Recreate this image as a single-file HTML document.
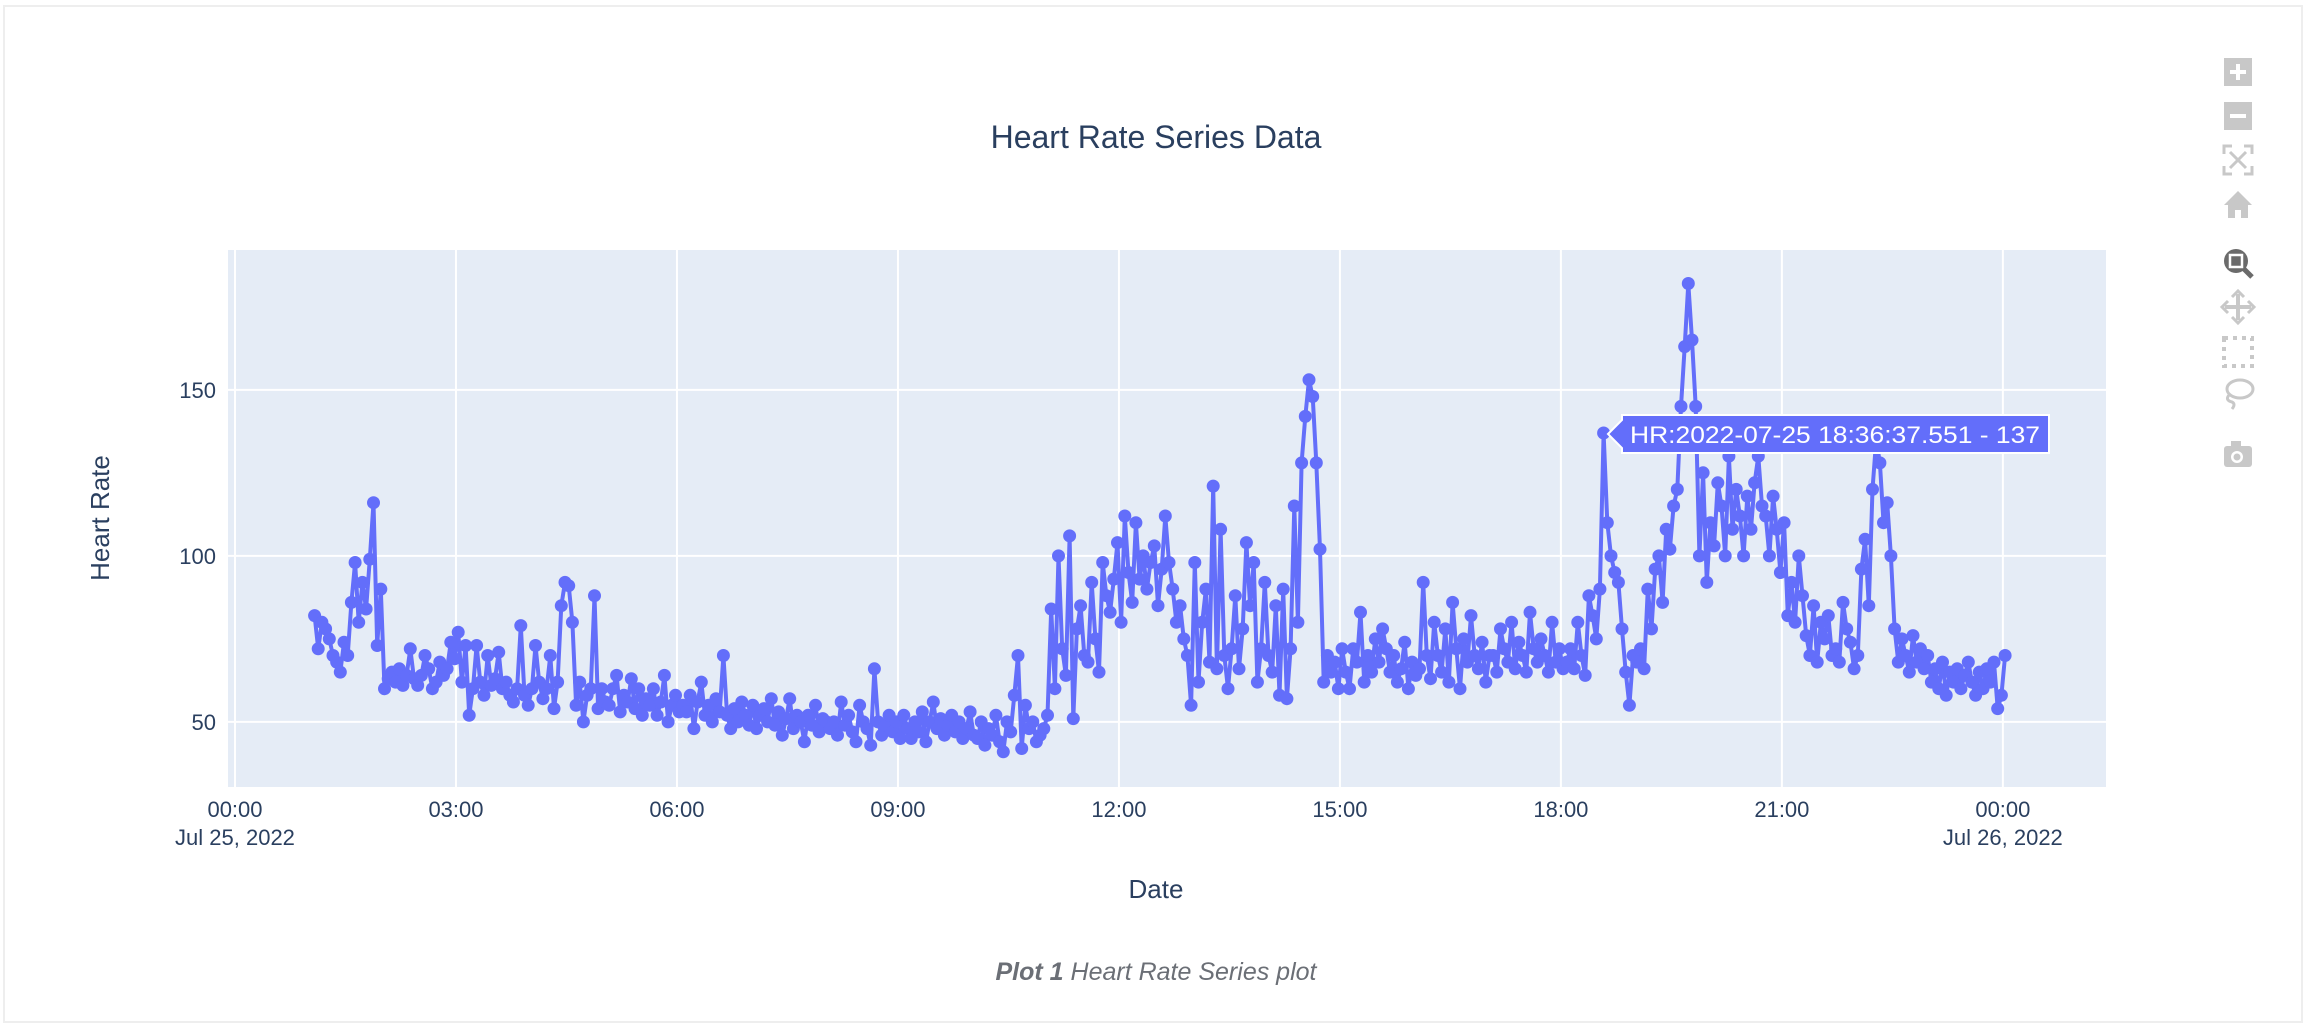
<!DOCTYPE html>
<html><head><meta charset="utf-8"><style>
html,body{margin:0;padding:0;background:#fff;}
body{width:2306px;height:1026px;overflow:hidden;font-family:"Liberation Sans",sans-serif;}
</style></head><body>
<svg id="chart" width="2306" height="1026" viewBox="0 0 2306 1026" xmlns="http://www.w3.org/2000/svg">
<rect x="4" y="6" width="2298" height="1016" fill="#fff" stroke="#eeeeee" stroke-width="2"/>
<text x="1156" y="148" text-anchor="middle" font-size="32" fill="#2a3f5f">Heart Rate Series Data</text>
<rect x="228" y="250" width="1878" height="537" fill="#e5ecf6"/>
<g id="grid"></g>
<g id="xticks"></g>
<g id="yticks"></g>
<g id="series"></g>
<text x="0" y="0" transform="translate(109,518) rotate(-90)" text-anchor="middle" font-size="26" fill="#2a3f5f">Heart Rate</text>
<text x="1156" y="898" text-anchor="middle" font-size="26" fill="#2a3f5f">Date</text>
<text x="1156" y="980" text-anchor="middle" font-size="25" fill="#6b6f76" font-style="italic"><tspan font-weight="bold">Plot 1</tspan> Heart Rate Series plot</text>
<g id="tooltip">
<path d="M1608,434 L1622,420 L1622,415 L2049,415 L2049,453 L1622,453 L1622,448 Z" fill="#636efa" stroke="#fff" stroke-width="2"/>
<text x="1630" y="443" font-size="24" fill="#fff" textLength="410" lengthAdjust="spacingAndGlyphs">HR:2022-07-25 18:36:37.551 - 137</text>
</g>
<g fill="#c8c8c8">
<g><rect x="2224" y="58" width="28" height="28"/><rect x="2230" y="70" width="16" height="4" fill="#fff"/><rect x="2236" y="64" width="4" height="16" fill="#fff"/></g>
<g><rect x="2224" y="102" width="28" height="28"/><rect x="2230" y="114" width="16" height="4" fill="#fff"/></g>
<g stroke="#c8c8c8" stroke-width="3" fill="none"><path d="M2224,154 v-8 h8 M2244,146 h8 v8 M2252,166 v8 h-8 M2232,174 h-8 v-8 M2230,152 l16,16 M2246,152 l-16,16"/></g>
<g><path d="M2238,191 L2224,205 L2228,205 L2228,218 L2235,218 L2235,210 L2241,210 L2241,218 L2248,218 L2248,205 L2252,205 Z"/></g>
<g><circle cx="2236" cy="261" r="12" fill="#6b6b6b"/><rect x="2230" y="255" width="12" height="12" fill="#6b6b6b" stroke="#fff" stroke-width="2.5"/><path d="M2244,269 L2252,277" stroke="#6b6b6b" stroke-width="5"/></g>
<g stroke="#c8c8c8" stroke-width="4" fill="none"><path d="M2238,294 v26 M2225,307 h26"/><path d="M2232,297 l6,-6 l6,6 M2232,317 l6,6 l6,-6 M2228,301 l-6,6 l6,6 M2248,301 l6,6 l-6,6" stroke-width="3"/></g>
<g stroke="#c8c8c8" stroke-width="4" fill="none" stroke-dasharray="4,5"><rect x="2224" y="338" width="28" height="28"/></g>
<g stroke="#c8c8c8" stroke-width="3" fill="none"><ellipse cx="2240" cy="389" rx="13" ry="9"/><path d="M2230,394 q-6,6 2,8 q4,2 0,7"/></g>
<g><rect x="2224" y="446" width="28" height="21" rx="3"/><rect x="2231" y="441" width="10" height="6"/><circle cx="2237" cy="457" r="6" fill="#fff"/><circle cx="2237" cy="457" r="3.5"/></g>
</g>
</svg>
<script>
const NS='http://www.w3.org/2000/svg';
const yTickVals=[50,100,150];
const xTickHours=[0,3,6,9,12,15,18,21,24];
const xTickLabels=['00:00','03:00','06:00','09:00','12:00','15:00','18:00','21:00','00:00'];
const xTickSubLabels=['Jul 25, 2022','','','','','','','','Jul 26, 2022'];
const startHour=1.08;
const stepMinutes=3;
const hrValues=[
82,72,80,78,75,70,68,65,74,70,86,98,80,92,84,99,116,73,90,60,
63,65,62,66,61,64,72,63,61,64,70,66,60,62,68,64,66,74,69,77,
62,73,52,60,73,62,58,70,61,63,71,60,62,58,56,60,79,58,55,60,
73,62,57,60,70,54,62,85,92,91,80,55,62,50,58,60,88,54,60,56,
55,60,64,53,58,56,63,54,60,52,57,55,60,52,56,64,50,55,58,53,
55,53,58,48,56,62,52,55,50,57,53,70,52,48,54,50,56,52,49,55,
48,52,54,50,57,49,53,46,51,57,48,52,50,44,52,49,55,47,51,50,
48,50,46,56,49,52,47,44,55,50,48,43,66,50,46,49,52,47,50,45,
52,48,45,50,47,53,44,50,56,48,51,46,49,52,47,50,45,48,53,46,
45,50,43,48,46,52,44,41,50,47,58,70,42,55,48,50,44,46,48,52,
84,60,100,72,64,106,51,78,85,70,68,92,75,65,98,88,83,93,104,80,
112,95,86,110,93,100,90,98,103,85,96,112,98,90,80,85,75,70,55,98,
62,80,90,68,121,66,108,70,60,72,88,66,78,104,85,98,62,72,92,70,
65,85,58,90,57,72,115,80,128,142,153,148,128,102,62,70,65,68,60,72,
65,60,72,68,83,62,70,65,75,68,78,72,65,70,62,66,74,60,68,64,
66,92,70,63,80,70,65,78,62,86,72,60,75,68,82,70,66,74,62,70,
70,65,78,72,68,80,66,74,70,65,83,72,68,75,70,65,80,68,72,66,
68,72,66,80,70,64,88,82,75,90,137,110,100,95,92,78,65,55,70,68,
72,66,90,78,96,100,86,108,102,115,120,145,163,182,165,145,100,125,92,110,
103,122,115,100,130,108,120,112,100,118,108,122,130,115,112,100,118,108,95,110,
82,92,80,100,88,76,70,85,68,80,75,82,70,72,68,86,78,74,66,70,
96,105,85,120,135,128,110,116,100,78,68,75,70,65,76,68,72,66,70,62,
66,60,68,58,65,62,66,60,64,68,62,58,65,60,66,62,68,54,58,70
];
const X0=228,X1=2106,Y0=250,Y1=787;
const xMin=-0.095,xMax=25.4,yMin=30.4,yMax=192.1;
function xs(h){return X0+(h-xMin)/(xMax-xMin)*(X1-X0);}
function ys(v){return Y1-(v-yMin)/(yMax-yMin)*(Y1-Y0);}
const grid=document.getElementById('grid'),xt=document.getElementById('xticks'),yt=document.getElementById('yticks'),ser=document.getElementById('series');
function mk(tag,attrs,parent){const e=document.createElementNS(NS,tag);for(const k in attrs)e.setAttribute(k,attrs[k]);parent.appendChild(e);return e;}
yTickVals.forEach(v=>{
  const l=mk('line',{x1:X0,x2:X1,y1:ys(v),y2:ys(v),stroke:'#fff','stroke-width':2},grid);
  
  
  const t=mk('text',{x:X0-12,y:ys(v)+8,'text-anchor':'end','font-size':22,fill:'#2a3f5f'},yt);
  t.textContent=v;
  
  
});
xTickHours.forEach((h,i)=>{
  const l=mk('line',{x1:xs(h),x2:xs(h),y1:Y0,y2:Y1,stroke:'#fff','stroke-width':2},grid);
  
  
  const t=mk('text',{x:xs(h),y:817,'text-anchor':'middle','font-size':22,fill:'#2a3f5f'},xt);
  t.textContent=xTickLabels[i];
  
  
  if(xTickSubLabels[i]){
    const s=mk('text',{x:xs(h),y:845,'text-anchor':'middle','font-size':22,fill:'#2a3f5f'},xt);
    s.textContent=xTickSubLabels[i];
    
    
  }
});
const pts=hrValues.map((v,i)=>[xs(startHour+i*stepMinutes/60),ys(v)]);
const line=mk('polyline',{points:pts.map(p=>p[0].toFixed(1)+','+p[1].toFixed(1)).join(' '),fill:'none',stroke:'#636efa','stroke-width':4,'stroke-linejoin':'round'},ser);


pts.forEach(p=>{
  const c=mk('circle',{cx:p[0].toFixed(1),cy:p[1].toFixed(1),r:6.5,fill:'#636efa'},ser);
  
  
});
</script>
</body></html>
